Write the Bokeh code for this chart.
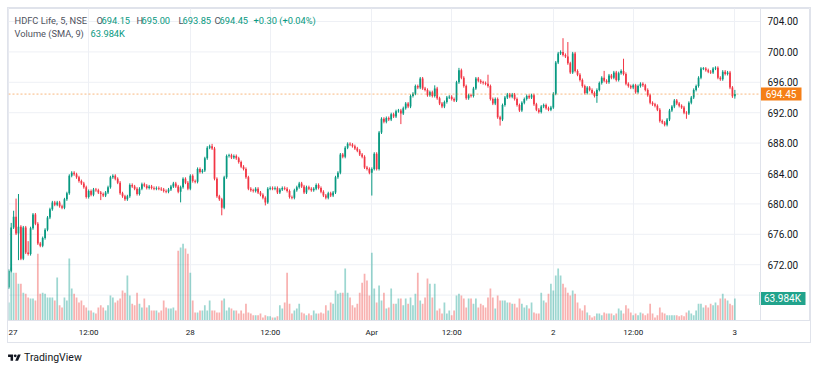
from bokeh.plotting import figure
from bokeh.models import Range1d, FixedTicker, Span, Label, Div, ColumnDataSource
from bokeh.layouts import column
from bokeh.core.properties import value
from bokeh.embed import file_html
from bokeh.resources import INLINE

# ---------------- data (5-minute candles, HDFC Life, NSE) ----------------
first_open = 669.0
close_mar27 = [671.2, 676.9, 678.3, 676.1, 677.0, 672.8, 676.9, 673.6, 673.4, 676.8,
               678.6, 677.4, 674.8, 674.5, 675.5, 676.6, 678.2, 679.3, 680.2, 679.9,
               680.2, 679.7, 679.5, 680.6, 681.4, 683.7, 684.1, 683.9, 683.5, 683.0,
               682.7, 682.2, 680.9, 681.7, 681.2, 681.9, 681.8, 681.5, 681.3, 681.1,
               681.5, 682.2, 683.5, 683.7, 683.3, 682.8, 681.4, 681.0, 680.6, 681.0,
               682.5, 682.3, 682.0, 681.3, 682.0, 682.6, 682.4, 682.1, 682.3, 682.1,
               682.0, 682.1, 682.0, 681.9, 681.7, 681.6, 681.9, 682.3, 682.7, 682.3,
               681.6, 682.2, 683.3, 682.8, 682.0]
close_mar28 = [683.7, 683.0, 682.9, 684.6, 684.2, 684.4, 686.0, 687.4, 687.6, 687.3,
               683.3, 681.0, 680.6, 679.5, 683.5, 686.3, 686.4, 686.1, 686.3, 686.0,
               685.5, 684.9, 684.6, 683.5, 682.0, 681.8, 681.7, 682.0, 681.5, 681.2,
               680.8, 680.2, 682.0, 682.1, 682.0, 682.1, 681.5, 681.9, 682.1, 682.0,
               681.7, 680.9, 680.8, 681.8, 682.2, 682.7, 682.3, 681.5, 682.2, 682.0,
               681.8, 682.0, 682.5, 682.1, 681.6, 681.1, 680.8, 681.4, 681.1, 681.5,
               683.5, 684.1, 686.5, 686.2, 687.4, 687.9, 687.8, 687.6, 687.3, 687.0,
               686.5, 686.2, 684.8, 684.6, 684.1]
close_apr01 = [684.6, 686.6, 684.6, 689.4, 691.2, 690.8, 691.3, 691.1, 691.8, 691.5,
               692.2, 692.3, 691.9, 692.6, 693.2, 692.8, 694.2, 694.5, 695.5, 695.3,
               696.5, 695.2, 695.0, 694.3, 694.7, 694.2, 695.2, 693.9, 693.2, 692.8,
               693.4, 694.0, 694.1, 693.8, 693.6, 696.0, 697.6, 696.6, 695.5, 693.9,
               694.3, 694.2, 695.2, 696.5, 696.2, 696.0, 695.9, 695.8, 695.5, 693.8,
               693.2, 693.8, 691.4, 691.1, 693.0, 694.0, 694.4, 694.1, 694.4, 693.8,
               693.0, 692.3, 693.3, 693.8, 694.2, 694.0, 694.3, 693.1, 692.4, 692.1,
               692.8, 693.0, 692.6, 692.4, 692.7]
close_apr02 = [694.5, 698.6, 699.8, 700.0, 699.6, 699.4, 698.5, 697.3, 699.8, 697.5,
               697.0, 696.3, 695.5, 694.6, 695.3, 695.0, 694.6, 694.2, 695.0, 695.9,
               696.6, 696.2, 696.0, 696.9, 696.6, 697.3, 696.3, 697.2, 697.5, 697.1,
               695.8, 695.5, 695.3, 695.6, 694.7, 695.5, 695.8, 695.6, 695.0, 694.3,
               693.3, 693.1, 692.9, 692.4, 690.9, 690.7, 690.4, 691.1, 692.3, 692.8,
               693.6, 693.2, 692.9, 692.7, 692.0, 691.9, 693.3, 694.0, 695.0, 695.5,
               696.6, 697.8, 697.8, 697.6, 697.4, 697.3, 697.8, 697.9, 696.6, 696.4,
               697.4, 697.1, 697.3, 695.3, 694.15]
close_apr03 = [694.45]

# volume in thousands
vol_mar27 = [52, 154, 139, 139, 107, 107, 81, 78, 67, 64,
             64, 58, 194, 78, 81, 78, 67, 67, 67, 58,
             125, 44, 38, 67, 58, 180, 93, 78, 67, 52,
             58, 44, 38, 29, 29, 23, 20, 38, 44, 38,
             29, 44, 73, 67, 52, 58, 64, 87, 81, 131,
             73, 49, 44, 81, 49, 38, 64, 38, 44, 29,
             29, 29, 23, 29, 58, 38, 35, 35, 38, 29,
             203, 212, 223, 209, 194]
vol_mar28 = [139, 58, 23, 23, 29, 29, 44, 29, 58, 29,
             29, 23, 23, 58, 64, 29, 38, 35, 29, 29,
             20, 29, 20, 49, 23, 20, 15, 15, 15, 20,
             9, 15, 12, 12, 9, 9, 12, 44, 35, 52,
             139, 49, 20, 29, 35, 49, 23, 20, 15, 20,
             15, 29, 20, 20, 23, 20, 44, 29, 52, 49,
             87, 78, 81, 81, 151, 81, 67, 44, 38, 49,
             81, 110, 136, 116, 73]
vol_apr01 = [197, 93, 52, 102, 58, 81, 35, 38, 93, 49,
             49, 64, 64, 44, 64, 49, 67, 44, 78, 139,
             58, 49, 67, 122, 107, 67, 107, 29, 35, 20,
             52, 20, 29, 15, 29, 73, 78, 73, 64, 38,
             64, 64, 49, 64, 38, 49, 44, 38, 67, 93,
             67, 35, 73, 58, 58, 58, 52, 52, 49, 49,
             38, 64, 49, 38, 44, 35, 52, 23, 20, 20,
             81, 58, 52, 78, 107]
vol_apr02 = [87, 131, 151, 131, 107, 96, 81, 73, 87, 78,
             52, 35, 29, 44, 23, 15, 9, 12, 20, 20,
             15, 23, 20, 20, 20, 15, 20, 35, 29, 20,
             44, 35, 23, 15, 20, 15, 23, 20, 15, 20,
             49, 20, 9, 15, 38, 23, 20, 15, 15, 15,
             15, 15, 12, 15, 12, 23, 29, 20, 15, 29,
             49, 49, 38, 44, 38, 49, 44, 52, 44, 64,
             78, 64, 58, 49, 44]
vol_apr03 = [63.984]

# wick lengths beyond the candle body (price units)
base_wick = 0.2
wick_up = {1: 0.6, 2: 0.8, 3: 2.4, 4: 4.3, 8: 1.5, 84: 0.3, 176: 0.4, 186: 0.3,
           198: 1.2, 229: 1.8, 231: 1.9, 246: 0.9, 254: 1.6, 300: 0.55}
wick_dn = {0: 0.2, 4: 3.5, 38: 0.8, 71: 1.4, 88: 1.0, 106: 0.4, 150: 3.0, 162: 1.4,
           203: 0.8, 243: 0.9, 280: 0.7, 300: 0.3}

time_tick_pos = [0, 33, 75, 108, 150, 183, 225, 258, 300]
time_tick_labels = ["27", "12:00", "28", "12:00", "Apr", "12:00", "2", "12:00", "3"]
price_ticks = [668, 672, 676, 680, 684, 688, 692, 696, 700, 704]
price_labels = ["", "672.00", "676.00", "680.00", "684.00", "688.00",
                "692.00", "696.00", "700.00", "704.00"]
symbol_title = "HDFC Life, 5, NSE"
volume_title = "Volume (SMA, 9)"

# ---------------- derived series ----------------
closes = close_mar27 + close_mar28 + close_apr01 + close_apr02 + close_apr03
volumes = vol_mar27 + vol_mar28 + vol_apr01 + vol_apr02 + vol_apr03
opens = [first_open] + closes[:-1]
n = len(closes)
idx = list(range(n))
highs = [max(o, c) + wick_up.get(i, base_wick) for i, (o, c) in enumerate(zip(opens, closes))]
lows = [min(o, c) - wick_dn.get(i, base_wick) for i, (o, c) in enumerate(zip(opens, closes))]

UP, DOWN = "#089981", "#f23645"
VUP, VDOWN = "#26a69a", "#ef5350"
colors, vcolors, btop, bbot = [], [], [], []
for o, c in zip(opens, closes):
    up = c >= o
    colors.append(UP if up else DOWN)
    vcolors.append(VUP if up else VDOWN)
    t, b = max(o, c), min(o, c)
    if t - b < 0.1:
        m = (t + b) / 2
        t, b = m + 0.05, m - 0.05
    btop.append(t)
    bbot.append(b)

src = ColumnDataSource(dict(x=idx, h=highs, l=lows, top=btop, bot=bbot,
                            color=colors, vol=volumes, vcolor=vcolors))

# ---------------- layout geometry ----------------
CHART_W, SCALE_W, FRAME_H, AXIS_H = 752, 50, 312, 22
FRAME_W = CHART_W + SCALE_W
X0 = -0.12
KX = 752 / 310.72            # px per bar
X1 = X0 + FRAME_W / KX
X_SEP = X0 + CHART_W / KX    # price-scale separator
Y0, Y1 = 664.66, 705.71
V1 = 907.0
KY = FRAME_H / (Y1 - Y0)


def px_x(page_x):
    return X0 + (page_x - 8) / KX


def px_y(page_y):
    return Y1 - (page_y - 8) / KY


p = figure(width=FRAME_W, height=FRAME_H + AXIS_H,
           x_range=Range1d(X0, X1), y_range=Range1d(Y0, Y1),
           output_backend="svg", toolbar_location=None, tools="",
           y_axis_location=None,
           min_border_left=0, min_border_top=0,
           min_border_right=0, min_border_bottom=AXIS_H,
           background_fill_color="white", border_fill_color="white",
           styles={"box-shadow": "0 0 0 1px #e0e3eb"})
p.margin = (8, 0, 0, 8)
p.outline_line_color = "#e0e3eb"
p.extra_y_ranges = {"vol": Range1d(0, V1)}

# grid
p.xgrid.ticker = FixedTicker(ticks=time_tick_pos)
p.xgrid.grid_line_color = "#eef0f5"
p.ygrid.visible = False
p.segment(x0=[X0] * len(price_ticks), x1=[X_SEP] * len(price_ticks),
          y0=price_ticks, y1=price_ticks, line_color="#eef0f5", line_width=1,
          level="underlay")

# time axis
xax = p.xaxis[0]
xax.ticker = FixedTicker(ticks=time_tick_pos)
xax.major_label_overrides = dict(zip(time_tick_pos, time_tick_labels))
xax.axis_line_color = "#e0e3eb"
xax.major_tick_line_color = None
xax.minor_tick_line_color = None
xax.major_tick_out = 0
xax.major_tick_in = 0
xax.major_label_text_font = "Roboto"
xax.major_label_text_color = "#131722"
xax.major_label_text_font_size = "8px"
xax.major_label_standoff = 7

# volume bars
p.vbar(x="x", top="vol", bottom=0, width=0.72, fill_color="vcolor", fill_alpha=0.45,
       line_color=None, y_range_name="vol", source=src)
# candles
p.segment(x0="x", y0="l", x1="x", y1="h", line_color="color", line_width=1, source=src)
p.vbar(x="x", top="top", bottom="bot", width=0.72, fill_color="color",
       line_color=None, source=src)

# last price line
last_price = closes[-1]
p.segment(x0=[X0], x1=[X_SEP], y0=[last_price], y1=[last_price], line_color="#f57f17",
          line_alpha=0.55, line_dash="2 2", line_width=1)

# price scale (right)
p.add_layout(Span(location=X_SEP, dimension="height", line_color="#e0e3eb", line_width=1))
p.text(x=[px_x(767)] * len(price_ticks), y=price_ticks, text=price_labels,
       text_font=value("Roboto"), text_font_size=value("10px"), text_color="#131722",
       text_align="left", text_baseline="middle")

# price tag
tag_cx = px_x(780.5)
p.rect(x=[tag_cx], y=[last_price], width=41 / KX, height=13 / KY,
       fill_color="#f57f17", line_color=None)
p.text(x=[tag_cx], y=[last_price], text=[f"{last_price:.2f}"],
       text_font=value("Roboto"), text_font_size=value("10px"), text_color="white",
       text_align="center", text_baseline="middle")
# volume tag
vol_tag_y = volumes[-1]
p.rect(x=[px_x(782)], y=[vol_tag_y], width=46 / KX, height=13 * V1 / FRAME_H,
       fill_color="#22a38c", line_color=None, y_range_name="vol")
p.text(x=[px_x(782)], y=[vol_tag_y], text=[f"{volumes[-1]:.3f}K"],
       text_font=value("Roboto"), text_font_size=value("10px"), text_color="white",
       text_align="center", text_baseline="middle", y_range_name="vol")

# legend lines (top-left)
GRAY, TEAL = "#50535e", "#089981"
chg = closes[-1] - closes[-2]
pct = chg / closes[-2] * 100
row1 = [(14, symbol_title, GRAY),
        (96, "O", GRAY), (101, f"{opens[-1]:.2f}", TEAL),
        (136, "H", GRAY), (141, f"{highs[-1]:.2f}", TEAL),
        (178, "L", GRAY), (182, f"{lows[-1]:.2f}", TEAL),
        (214, "C", GRAY), (219, f"{closes[-1]:.2f}", TEAL),
        (253, f"{chg:+.2f} ({pct:+.2f}%)", TEAL)]
row2 = [(14, volume_title, GRAY), (90, f"{volumes[-1]:.3f}K", TEAL)]
for items, py in ((row1, 20), (row2, 33)):
    for px, txt, col in items:
        p.add_layout(Label(x=px_x(px), y=px_y(py), text=txt, text_align="left",
                           text_baseline="middle", text_font="Roboto",
                           text_font_size="9.3px", text_color=col))

logo_svg = ('<svg width="13" height="10" viewBox="0 0 36 28" xmlns="http://www.w3.org/2000/svg">'
            '<path d="M14 22H7V11H0V4h14v18zM28 22h-8l7.5-18h8L28 22z" fill="#131722"/>'
            '<circle cx="20" cy="8" r="4" fill="#131722"/></svg>')
div = Div(text=('<div style="margin-top:8px;display:flex;align-items:center;gap:3px;'
                'font-family:Roboto;font-size:10.5px;color:#131722;">'
                + logo_svg + '<span>TradingView</span></div>'),
          width=200, height=26)
div.margin = (0, 0, 0, 8)

layout = column(p, div)
open("out.html", "w").write(file_html(layout, INLINE))
